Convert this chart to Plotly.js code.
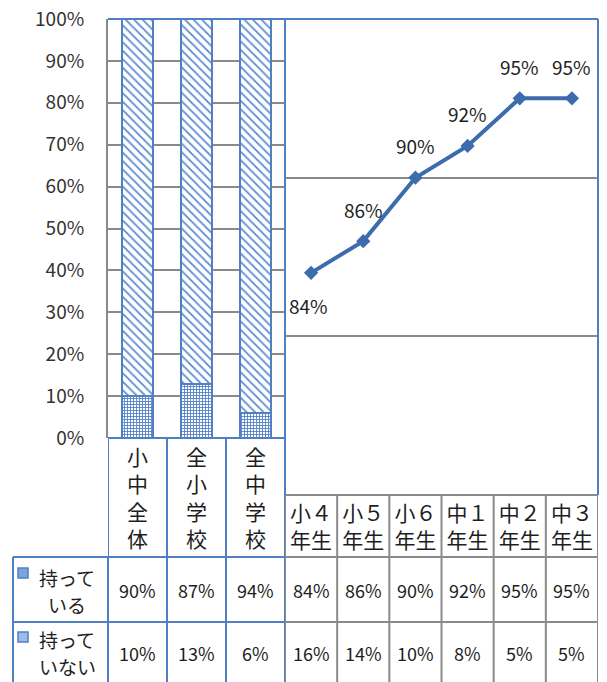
<!DOCTYPE html>
<html>
<head>
<meta charset="utf-8">
<script src="https://cdn.plot.ly/plotly-3.0.1.min.js"></script>
<style>
  html, body { margin: 0; padding: 0; background: #fff; }
  #chart { width: 607px; height: 682px; }
</style>
</head>
<body>
<div id="chart"></div>
<script>
// 携帯電話の所持率: 学校種別（積み上げ棒）と学年別（折れ線）
const groups = ['小中全体', '全小学校', '全中学校'];
const groupHave = [90, 87, 94];
const groupNot = [10, 13, 6];

const grades = ['小４年生', '小５年生', '小６年生', '中１年生', '中２年生', '中３年生'];
const gradeHave = [84, 86, 90, 92, 95, 95];
const gradeNot = [16, 14, 10, 8, 5, 5];

const rowLabels = [['持って', 'いる'], ['持って', 'いない']];

const W = 607, H = 682;
const px = x => x / W;
const py = y => 1 - y / H;

const BLUE = '#4f80c6';
const GRAY = '#8a8a8a';
const LINE = '#3d6cae';
const TXT = '#1e1e1e';
const FONT = 'Noto Sans CJK JP, Noto Sans, sans-serif';

// pixel rows of the frame and of the table under the plots
const plotTop = 19, barBottom = 438, lineBottom = 495, headBottom = 557, row1Bottom = 622, tableBottom = 690;
const legendLeft = 13, leftStart = 108, split = 285, rightEnd = 598;

const pct = v => v + '%';

const traces = [
  {
    type: 'bar', x: groups, y: groupNot.map(v => v / 100), xaxis: 'x', yaxis: 'y',
    name: '持っていない', showlegend: false, hoverinfo: 'skip',
    marker: {
      color: '#ffffff',
      line: { color: BLUE, width: 2 },
      pattern: { shape: '+', fgcolor: '#4f80c6', bgcolor: '#ffffff', size: 3, solidity: 0.5 }
    }
  },
  {
    type: 'bar', x: groups, y: groupHave.map(v => v / 100), xaxis: 'x', yaxis: 'y',
    name: '持っている', showlegend: false, hoverinfo: 'skip',
    marker: {
      color: '#ffffff',
      line: { color: BLUE, width: 2 },
      pattern: { shape: '\\', fgcolor: '#5b8bd2', bgcolor: '#ffffff', size: 6, solidity: 0.3 }
    }
  },
  {
    type: 'scatter', mode: 'lines+markers', x: grades, y: gradeHave.map(v => v / 100),
    xaxis: 'x2', yaxis: 'y2', showlegend: false, hoverinfo: 'skip',
    line: { color: LINE, width: 4 },
    marker: { symbol: 'diamond', size: 11, color: LINE }
  }
];

const cellFont = { family: FONT, size: 18, color: TXT };
const annotations = [];
// data labels on the line
gradeHave.forEach((v, i) => {
  annotations.push({
    xref: 'x2', yref: 'y2', x: grades[i], y: v / 100, text: pct(v), showarrow: false,
    xanchor: 'center', yanchor: 'middle',
    yshift: i === 0 ? -33 : 32, xshift: i === 0 ? -3 : 0,
    font: { family: FONT, size: 19, color: TXT }
  });
});
// table values
const row1Y = py((headBottom + row1Bottom) / 2);
const row2Y = py(653);
const cell = (xref, x, y, text, font) => annotations.push({
  xref, yref: 'paper', x, y, text, showarrow: false, xanchor: 'center', yanchor: 'middle',
  align: 'center', borderpad: 0, font
});
groups.forEach((g, i) => {
  cell('x', g, row1Y, pct(groupHave[i]), cellFont);
  cell('x', g, row2Y, pct(groupNot[i]), cellFont);
});
grades.forEach((g, i) => {
  cell('x2', g, row1Y, pct(gradeHave[i]), cellFont);
  cell('x2', g, row2Y, pct(gradeNot[i]), cellFont);
});
// row headings, one line each
const headFont = { family: FONT, size: 19, color: TXT };
const headLines = [[577, 604], [639, 666]];
rowLabels.forEach((lines, r) => {
  lines.forEach((t, k) => cell('paper', px(67), py(headLines[r][k]), t, headFont));
});

const shapes = [];
const hline = (xref, x0, x1, y, color) => shapes.push({ type: 'line', xref, yref: 'paper', x0, x1, y0: py(y), y1: py(y), line: { color, width: 2 } });
const vline = (xref, x, y0, y1, color) => shapes.push({ type: 'line', xref, yref: 'paper', x0: x, x1: x, y0: py(y0), y1: py(y1), line: { color, width: 2 } });

// right table (gray)
for (let i = 0; i <= grades.length; i++) vline('x2', i - 0.5, lineBottom, tableBottom, GRAY);
[lineBottom, headBottom, row1Bottom].forEach(y => hline('x2', -0.5, grades.length - 0.5, y, GRAY));
// left table (blue)
for (let i = 0; i <= groups.length; i++) vline('x', i - 0.5, barBottom, tableBottom, BLUE);
hline('x', -0.5, groups.length - 0.5, barBottom, BLUE);
[headBottom, row1Bottom].forEach(y => hline('paper', px(legendLeft), px(split), y, BLUE));
vline('paper', px(legendLeft), headBottom, tableBottom, BLUE);
vline('paper', px(leftStart), headBottom, tableBottom, BLUE);
// plot frame
hline('paper', px(leftStart), px(rightEnd), plotTop, BLUE);
vline('paper', px(rightEnd), plotTop, lineBottom, BLUE);
vline('paper', px(split), plotTop, lineBottom, BLUE);
// legend keys in the row headings
shapes.push({ type: 'rect', xref: 'paper', yref: 'paper', x0: px(18), x1: px(28), y0: py(578), y1: py(568), fillcolor: '#7ea3dc', line: { color: BLUE, width: 1.5 } });
shapes.push({ type: 'rect', xref: 'paper', yref: 'paper', x0: px(18), x1: px(28), y0: py(642), y1: py(632), fillcolor: '#9dbbe6', line: { color: BLUE, width: 1.5 } });

const layout = {
  width: W, height: H,
  margin: { l: 0, r: 0, t: 0, b: 0 },
  paper_bgcolor: '#ffffff', plot_bgcolor: '#ffffff',
  barmode: 'stack', bargap: 0.49,
  font: { family: FONT, color: TXT },
  xaxis: {
    domain: [px(leftStart), px(split)], anchor: 'y', type: 'category',
    range: [-0.5, groups.length - 0.5],
    tickvals: groups, ticktext: groups.map(g => g.split('').join('<br>')),
    ticks: '', showgrid: false, zeroline: false, showline: false,
    tickfont: { family: FONT, size: 21, color: TXT }, ticklabelstandoff: 5
  },
  yaxis: {
    domain: [py(barBottom), py(plotTop)], anchor: 'x', range: [0, 1],
    dtick: 0.1, tickformat: '.0%', ticks: '', ticklabelstandoff: 18,
    showgrid: true, gridcolor: GRAY, gridwidth: 2, zeroline: false,
    showline: true, linecolor: GRAY, linewidth: 2,
    tickfont: { family: FONT, size: 19, color: '#333' }
  },
  xaxis2: {
    domain: [px(split), px(rightEnd)], anchor: 'y2', type: 'category',
    range: [-0.5, grades.length - 0.5],
    tickvals: grades, ticktext: grades.map(g => g.slice(0, 2) + '<br>' + g.slice(2)),
    ticks: '', showgrid: false, zeroline: false, showline: false,
    tickfont: { family: FONT, size: 21, color: TXT }, ticklabelstandoff: 4
  },
  yaxis2: {
    domain: [py(lineBottom), py(plotTop)], anchor: 'x2', range: [0.7, 1.0],
    dtick: 0.1, showticklabels: false, ticks: '',
    showgrid: true, gridcolor: GRAY, gridwidth: 2, zeroline: false, showline: false
  },
  annotations, shapes
};

Plotly.newPlot('chart', traces, layout, { staticPlot: true, displayModeBar: false });
</script>
</body>
</html>
